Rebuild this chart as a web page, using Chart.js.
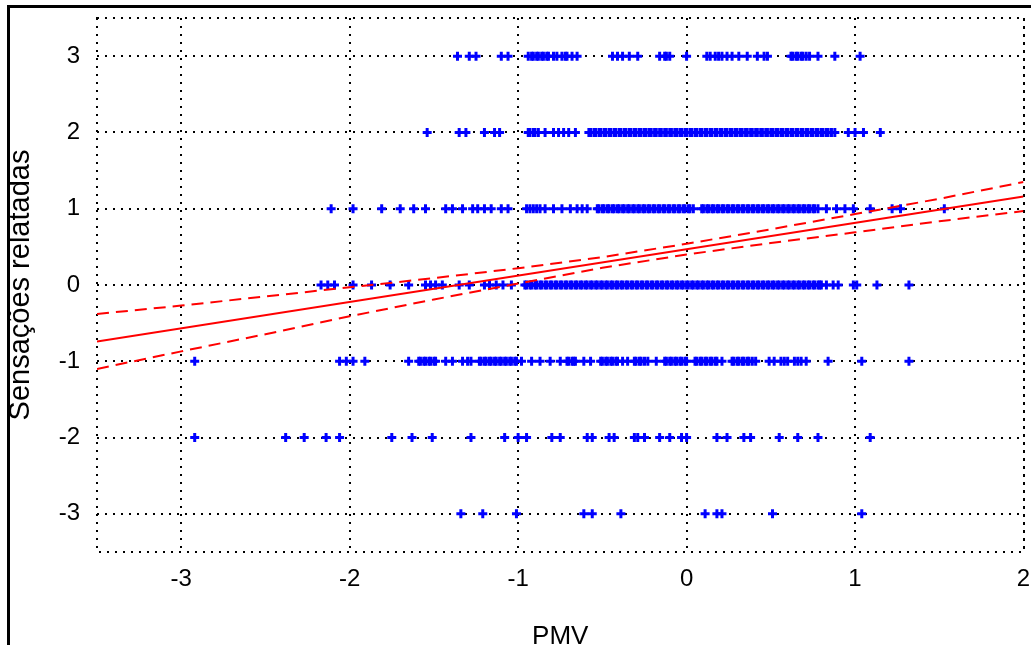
<!DOCTYPE html>
<html>
<head>
<meta charset="utf-8">
<script src="https://cdn.jsdelivr.net/npm/chart.js@4.4.1/dist/chart.umd.min.js"></script>
<style>
  html, body { margin: 0; padding: 0; background: #fff; overflow: hidden; }
  #frame { position: absolute; left: 7px; top: 5px; width: 1030px; height: 700px;
           border-top: 3px solid #000; border-left: 3px solid #000; }
  #wrap { position: absolute; left: 0; top: 0; }
</style>
</head>
<body>
<div id="frame"></div>
<div id="wrap"><canvas id="chart" width="1031" height="660"></canvas></div>
<script>
// PMV values of the answers, grouped by reported sensation (-3 .. 3)
const pmvAt3 = [-1.36, -1.29, -1.25, -1.10, -1.06, -0.94, -0.92, -0.91, -0.89, -0.88, -0.86,
  -0.85, -0.83, -0.82, -0.79, -0.77, -0.74, -0.72, -0.71, -0.68, -0.65, -0.44, -0.41, -0.38,
  -0.34, -0.29, -0.16, -0.13, -0.12, -0.10, 0.00, 0.12, 0.14, 0.17, 0.19, 0.21, 0.24, 0.27,
  0.31, 0.36, 0.42, 0.46, 0.48, 0.62, 0.63, 0.65, 0.66, 0.68, 0.69, 0.71, 0.73, 0.78, 0.88,
  1.03];
const pmvAt2 = [-1.54, -1.35, -1.31, -1.20, -1.14, -1.11, -0.94, -0.93, -0.91, -0.90, -0.88,
  -0.84, -0.79, -0.76, -0.73, -0.70, -0.66,
  -0.58, -0.57, -0.55, -0.54, -0.52, -0.51, -0.49, -0.48, -0.46, -0.45, -0.43, -0.42, -0.40,
  -0.39, -0.37, -0.36, -0.34, -0.33, -0.31, -0.30, -0.28, -0.27, -0.25, -0.24, -0.22, -0.21,
  -0.19, -0.18, -0.16, -0.15, -0.13, -0.12, -0.10, -0.09, -0.07, -0.06, -0.04, -0.03, -0.01,
  0.00, 0.02, 0.03, 0.05, 0.06, 0.08, 0.09, 0.11, 0.12, 0.14, 0.15, 0.17, 0.18, 0.20, 0.21,
  0.23, 0.24, 0.26, 0.27, 0.29, 0.30, 0.32, 0.33, 0.35, 0.36, 0.38, 0.39, 0.41, 0.42, 0.44,
  0.45, 0.47, 0.48, 0.50, 0.51, 0.53, 0.54, 0.56, 0.57, 0.59, 0.60, 0.62, 0.63, 0.65, 0.66,
  0.68, 0.69, 0.71, 0.72, 0.74, 0.75, 0.77, 0.78, 0.80, 0.81, 0.83, 0.84, 0.86, 0.88,
  0.96, 1.00, 1.05, 1.15];
const pmvAt1 = [-2.11, -1.98, -1.81, -1.70, -1.62, -1.55, -1.43, -1.39, -1.33, -1.27, -1.24,
  -1.20, -1.16, -1.10, -1.06, -0.95, -0.93, -0.91, -0.89, -0.87, -0.84, -0.79, -0.74, -0.69,
  -0.65, -0.62, -0.59,
  -0.53, -0.52, -0.50, -0.49, -0.47, -0.46, -0.44, -0.43, -0.41, -0.40, -0.38, -0.37, -0.35,
  -0.34, -0.32, -0.31, -0.29, -0.28, -0.26, -0.25, -0.23, -0.22, -0.20, -0.19, -0.17, -0.16,
  -0.14, -0.13, -0.11, -0.10, -0.08, -0.07, -0.05, -0.04, -0.02, -0.01, 0.01, 0.02, 0.04,
  0.09, 0.10, 0.12, 0.13, 0.15, 0.16, 0.18, 0.19, 0.21, 0.22, 0.24, 0.25, 0.27, 0.28, 0.30,
  0.31, 0.33, 0.34, 0.36, 0.37, 0.39, 0.40, 0.42, 0.43, 0.45, 0.46, 0.48, 0.49, 0.51, 0.52,
  0.54, 0.55, 0.57, 0.58, 0.60, 0.61, 0.63, 0.64, 0.66, 0.67, 0.69, 0.70, 0.72, 0.73, 0.75,
  0.76, 0.78, 0.83, 0.89, 0.94, 0.99, 1.09, 1.22, 1.27, 1.53];
const pmvAt0 = [-2.17, -2.13, -2.09, -1.98, -1.87, -1.76, -1.65, -1.55, -1.52, -1.49, -1.45,
  -1.35, -1.29, -1.20, -1.17, -1.13, -1.09, -1.04,
  -0.96, -0.95, -0.93, -0.92, -0.90, -0.89, -0.87, -0.86, -0.84, -0.83, -0.81, -0.80, -0.78,
  -0.77, -0.75, -0.74, -0.72, -0.71, -0.69, -0.68, -0.66, -0.65, -0.63, -0.62, -0.60, -0.59,
  -0.57, -0.56, -0.54, -0.53, -0.51, -0.50, -0.48, -0.47, -0.45, -0.44, -0.42, -0.41, -0.39,
  -0.38, -0.36, -0.35, -0.33, -0.32, -0.30, -0.29, -0.27, -0.26, -0.24, -0.23, -0.21, -0.20,
  -0.18, -0.17, -0.15, -0.14, -0.12, -0.11, -0.09, -0.08, -0.06, -0.05, -0.03, -0.02, 0.00,
  0.01, 0.03, 0.04, 0.06, 0.07, 0.09, 0.10, 0.12, 0.13, 0.15, 0.16, 0.18, 0.19, 0.21, 0.22,
  0.24, 0.25, 0.27, 0.28, 0.30, 0.31, 0.33, 0.34, 0.36, 0.37, 0.39, 0.40, 0.42, 0.43, 0.45,
  0.46, 0.48, 0.49, 0.51, 0.52, 0.54, 0.55, 0.57, 0.58, 0.60, 0.61, 0.63, 0.64, 0.66, 0.67,
  0.69, 0.70, 0.72, 0.73, 0.75, 0.76, 0.78, 0.79, 0.80,
  0.83, 0.87, 0.90, 0.99, 1.01, 1.13, 1.32];
const pmvAtMinus1 = [-2.92, -2.06, -2.02, -1.98, -1.91, -1.65,
  -1.59, -1.58, -1.56, -1.55, -1.53, -1.52, -1.50, -1.49, -1.43, -1.39, -1.33, -1.30, -1.28,
  -1.23, -1.22, -1.20, -1.19, -1.17, -1.16, -1.14, -1.13, -1.11, -1.10, -1.08, -1.07, -1.05,
  -1.04, -1.02, -1.01, -0.98, -0.92, -0.87, -0.81, -0.75, -0.71, -0.70, -0.68, -0.67, -0.66,
  -0.61, -0.57, -0.51, -0.50, -0.48, -0.47, -0.45, -0.44, -0.42, -0.41, -0.38, -0.35,
  -0.31, -0.30, -0.28, -0.27, -0.25, -0.23, -0.18,
  -0.13, -0.12, -0.10, -0.09, -0.07, -0.06, -0.04, -0.03, -0.01, 0.00,
  0.05, 0.06, 0.08, 0.09, 0.11, 0.12, 0.14, 0.15, 0.17, 0.18, 0.21,
  0.27, 0.28, 0.30, 0.31, 0.33, 0.34, 0.36, 0.37, 0.39, 0.41,
  0.49, 0.52, 0.56, 0.58, 0.60, 0.64, 0.66, 0.68, 0.71, 0.84, 1.04, 1.32];
const pmvAtMinus2 = [-2.92, -2.38, -2.27, -2.14, -2.06, -1.75, -1.63, -1.51, -1.28, -1.08,
  -1.00, -0.95, -0.80, -0.75, -0.59, -0.56, -0.46, -0.43, -0.31, -0.29, -0.25, -0.16, -0.10,
  -0.03, 0.00, 0.18, 0.24, 0.34, 0.38, 0.55, 0.66, 0.78, 1.09];
const pmvAtMinus3 = [-1.34, -1.21, -1.01, -0.61, -0.56, -0.39, 0.11, 0.18, 0.21, 0.51, 1.04];

const levels = [3, 2, 1, 0, -1, -2, -3];
const pmvByLevel = [pmvAt3, pmvAt2, pmvAt1, pmvAt0, pmvAtMinus1, pmvAtMinus2, pmvAtMinus3];

// regression line and its confidence band
const fitX = [-3.5, 2];
const fitY = [-0.74, 1.16];
const bandX = [-3.5, -3, -2.5, -2, -1.5, -1, -0.5, 0, 0.5, 1, 1.5, 2];
const bandUpper = [-0.38, -0.27, -0.15, -0.03, 0.09, 0.22, 0.365, 0.54, 0.73, 0.93, 1.13, 1.35];
const bandLower = [-1.10, -0.87, -0.645, -0.41, -0.19, 0.02, 0.225, 0.40, 0.55, 0.69, 0.835, 0.97];

const xTicks = [-3, -2, -1, 0, 1, 2];
const yTicks = [-3, -2, -1, 0, 1, 2, 3];

const points = [];
levels.forEach((lv, i) => {
  pmvByLevel[i].forEach(x => points.push({ x: x, y: lv }));
});

const toXY = (xs, ys) => xs.map((x, i) => ({ x: x, y: ys[i] }));

const FONT = "'Liberation Sans', Arial, sans-serif";

// dotted frame round the plot area
const dottedFrame = {
  id: "dottedFrame",
  beforeDatasetsDraw(chart) {
    const a = chart.chartArea;
    const ctx = chart.ctx;
    ctx.save();
    ctx.strokeStyle = "#000";
    ctx.lineWidth = 2;
    ctx.setLineDash([2, 6]);
    ctx.strokeRect(Math.round(a.left), Math.round(a.top),
      Math.round(a.right - a.left), Math.round(a.bottom - a.top));
    ctx.restore();
  }
};

new Chart(document.getElementById("chart").getContext("2d"), {
  type: "scatter",
  data: {
    datasets: [
      {
        data: toXY(fitX, fitY),
        showLine: true,
        borderColor: "#ff0000",
        borderWidth: 2,
        pointRadius: 0,
        order: 0
      },
      {
        data: toXY(bandX, bandUpper),
        showLine: true,
        borderColor: "#ff0000",
        borderWidth: 2,
        borderDash: [12, 7],
        pointRadius: 0,
        order: 0
      },
      {
        data: toXY(bandX, bandLower),
        showLine: true,
        borderColor: "#ff0000",
        borderWidth: 2,
        borderDash: [12, 7],
        pointRadius: 0,
        order: 0
      },
      {
        data: points,
        pointStyle: "cross",
        pointRadius: 4.5,
        borderWidth: 3,
        borderColor: "#0000ff",
        backgroundColor: "#0000ff",
        order: 1
      }
    ]
  },
  options: {
    responsive: false,
    animation: false,
    events: [],
    layout: { padding: { top: 18, right: 1, left: 0, bottom: 0 } },
    plugins: { legend: { display: false }, tooltip: { enabled: false } },
    scales: {
      x: {
        type: "linear",
        min: -3.5,
        max: 2,
        afterBuildTicks: s => { s.ticks = xTicks.map(v => ({ value: v })); },
        afterFit: s => { s.height = 108; s.paddingLeft = 0; s.paddingRight = 0; },
        grid: { color: "#000", lineWidth: 2, drawTicks: false },
        border: { display: false, dash: [2, 6] },
        ticks: { color: "#000", padding: 13, maxRotation: 0, font: { family: FONT, size: 24 } },
        title: {
          display: true, text: "PMV", color: "#000",
          padding: { top: 0, bottom: 8 },
          font: { family: FONT, size: 26 }
        }
      },
      y: {
        type: "linear",
        min: -3.5,
        max: 3.5,
        afterBuildTicks: s => { s.ticks = yTicks.map(v => ({ value: v })); },
        afterFit: s => { s.width = 97; s.paddingTop = 0; s.paddingBottom = 0; },
        grid: { color: "#000", lineWidth: 2, drawTicks: false },
        border: { display: false, dash: [2, 6] },
        ticks: { color: "#000", padding: 17, font: { family: FONT, size: 24 } },
        title: {
          display: true, text: "Sensações relatadas", color: "#000",
          padding: { top: 4, bottom: 0 },
          font: { family: FONT, size: 29 }
        }
      }
    }
  },
  plugins: [dottedFrame]
});
</script>
</body>
</html>
